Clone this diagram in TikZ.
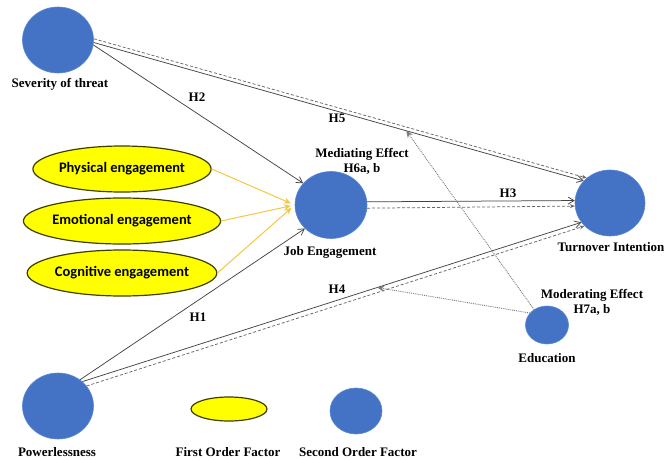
\documentclass[tikz,border=0pt]{standalone}
\usepackage{fontspec}
\setmainfont{Liberation Serif}
\newfontfamily\calib{Carlito}
\usetikzlibrary{arrows.meta,shapes.geometric}
\definecolor{factorblue}{HTML}{4472C4}
\definecolor{factoredge}{HTML}{5A88D6}
\definecolor{engyellow}{HTML}{FFFF00}
\definecolor{engedge}{HTML}{3F3F00}
\definecolor{goldline}{HTML}{F5C842}
\definecolor{lineg}{HTML}{454545}
\definecolor{dashg}{HTML}{666666}
\definecolor{dotg}{HTML}{7A7A7A}
\tikzset{
  second/.style={ellipse, fill=factorblue, draw=factoredge, line width=0.6pt, inner sep=0pt},
  first/.style={ellipse, fill=engyellow, draw=engedge, line width=1.2pt, inner sep=0pt,
     minimum width=172pt, minimum height=46pt, font=\calib\bfseries\fontsize{14.5}{16}\selectfont},
  lbl/.style={font=\bfseries\fontsize{13}{15}\selectfont, inner sep=0pt, align=center},
  mainarrow/.style={draw=lineg, line width=0.75pt, -{Straight Barb[length=6pt,width=7pt]}},
  dasharrow/.style={draw=dashg, line width=0.75pt, dash pattern=on 3pt off 2pt, -{Stealth[length=5pt,width=4pt]}},
  goldarrow/.style={draw=goldline, line width=1pt, -{Stealth[length=7pt,width=6pt]}, shorten >=4pt},
  dotarrow/.style={draw=dotg, line width=0.9pt, densely dotted, -{Stealth[length=7pt,width=6pt]}, color=dotg},
}
\begin{document}
\begin{tikzpicture}[x=1pt,y=-1pt]
\useasboundingbox (0,0) rectangle (669,460);
\fill[white] (0,0) rectangle (669,460);

% second-order factors
\node[second, minimum width=71pt, minimum height=66pt] (sev) at (58,40) {};
\node[second, minimum width=72pt, minimum height=67pt] (job) at (331,205) {};
\node[second, minimum width=70pt, minimum height=66pt] (turn) at (610,203) {};
\node[second, minimum width=43pt, minimum height=38pt] (edu) at (547,325) {};
\node[second, minimum width=71pt, minimum height=66pt] (pow) at (58,406) {};

% first-order factors
\node[first] (phys) at (122,169) {Physical engagement};
\node[first] (emo) at (122,221) {Emotional engagement};
\node[first] (cog) at (122,273) {Cognitive engagement};

% legend
\node[ellipse, fill=engyellow, draw=engedge, line width=1.2pt, minimum width=76pt, minimum height=24pt, inner sep=0pt] (legfirst) at (229,409) {};
\node[second, minimum width=52pt, minimum height=46pt] (legsecond) at (356,411) {};

% labels
\node[lbl] (lsev) at (60,84) {Severity of threat};
\node[lbl] (ljob) at (330,252) {Job Engagement};
\node[lbl] (lmed) at (362,161) {Mediating Effect\\H6a, b};
\node[lbl] (lturn) at (611,247) {Turnover Intention};
\node[lbl] (lmod) at (592,302) {Moderating Effect\\H7a, b};
\node[lbl] (ledu) at (547,358) {Education};
\node[lbl] (lpow) at (57,452) {Powerlessness};
\node[lbl] (lfirst) at (228,452) {First Order Factor};
\node[lbl] (lsecond) at (358,452) {Second Order Factor};
\node[lbl] (h2) at (197,97) {H2};
\node[lbl] (h5) at (337,118) {H5};
\node[lbl] (h3) at (508,193) {H3};
\node[lbl] (h4) at (337,289) {H4};
\node[lbl] (h1) at (198,317) {H1};

% first-order to job engagement
\draw[goldarrow] (phys.east) -- (job.west);
\draw[goldarrow] (emo.east) -- (job.west);
\draw[goldarrow] (cog.east) -- (job.west);

% H2, H1
\draw[mainarrow] (sev.-8) -- (job.142);
\draw[mainarrow] (pow.50) -- (job.222);

% H5
\draw[dasharrow] (sev.2) -- (turn.133);
\draw[mainarrow] (sev.-4) -- coordinate[pos=0.638] (p5) (turn.140);

% H3
\draw[mainarrow] (job.5) -- (turn.176);
\draw[dasharrow] (job.-5) -- (turn.185);

% H4
\draw[mainarrow] (pow.45) -- coordinate[pos=0.591] (p4) (turn.214);
\draw[dasharrow] (pow.35) -- (turn.222);

% moderating effects
\draw[dotarrow] (edu.130) -- (p5);
\draw[dotarrow] (edu.145) -- (p4);
\end{tikzpicture}
\end{document}
